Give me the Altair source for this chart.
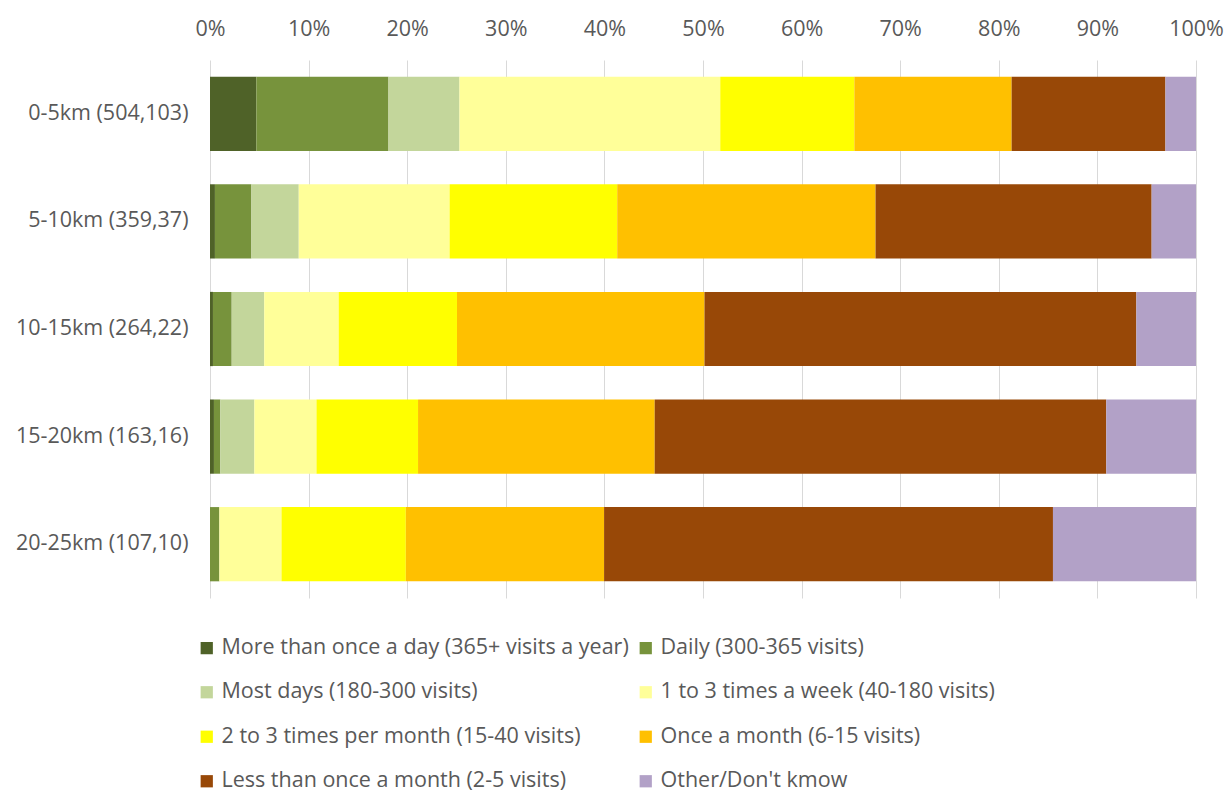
import altair as alt
import pandas as pd

rows = ["0-5km (504,103)", "5-10km (359,37)", "10-15km (264,22)", "15-20km (163,16)", "20-25km (107,10)"]
cats = [
    "More than once a day (365+ visits a year)",
    "Daily (300-365 visits)",
    "Most days (180-300 visits)",
    "1 to 3 times a week (40-180 visits)",
    "2 to 3 times per month (15-40 visits)",
    "Once a month (6-15 visits)",
    "Less than once a month (2-5 visits)",
    "Other/Don't kmow",
]
colors = ["#4F6228", "#77933C", "#C3D69B", "#FFFF99", "#FFFF00", "#FFC000", "#984807", "#B2A1C7"]

more_than_daily = [4.7, 0.5, 0.3, 0.4, 0.0]
daily = [13.4, 3.7, 1.9, 0.65, 0.95]
most_days = [7.2, 4.8, 3.3, 3.45, 0.0]
week_1_3 = [26.45, 15.3, 7.55, 6.3, 6.3]
month_2_3 = [13.6, 17.0, 12.0, 10.3, 12.6]
once_month = [15.95, 26.2, 25.1, 24.0, 20.1]
less_month = [15.6, 28.0, 43.8, 45.8, 45.5]
other = [3.1, 4.5, 6.05, 9.1, 14.5]

series = [more_than_daily, daily, most_days, week_1_3, month_2_3, once_month, less_month, other]

records = []
for ci, (c, vals) in enumerate(zip(cats, series)):
    for r, v in zip(rows, vals):
        records.append({"row": r, "cat": c, "idx": ci, "value": v})
df = pd.DataFrame(records)

FONT = "Open Sans"
chart = alt.Chart(df).mark_bar().encode(
    y=alt.Y("row:N", sort=rows, title=None,
            scale=alt.Scale(paddingInner=0.31, paddingOuter=0.155),
            axis=alt.Axis(ticks=False, domain=False, labelPadding=22, labelFontSize=21.5,
                          labelColor="#595959", labelFont=FONT, labelLimit=300)),
    x=alt.X("value:Q", stack="normalize", title=None,
            scale=alt.Scale(domain=[0, 1], nice=False),
            axis=alt.Axis(orient="top", format=".0%", values=[i / 10 for i in range(11)],
                          ticks=False, domain=False, grid=True, gridColor="#D9D9D9",
                          labelFlush=False, labelOverlap=False,
                          labelPadding=20, labelFontSize=21.5, labelColor="#595959", labelFont=FONT)),
    color=alt.Color("cat:N", sort=cats, scale=alt.Scale(domain=cats, range=colors),
                    legend=alt.Legend(title=None, orient="none", legendX=-14, legendY=577,
                                      columns=2, direction="horizontal",
                                      symbolType="square", symbolSize=150,
                                      symbolStrokeWidth=0, labelFontSize=21.5, labelColor="#595959",
                                      labelFont=FONT, rowPadding=21.5, columnPadding=6,
                                      labelLimit=600)),
    order=alt.Order("idx:Q"),
).properties(
    width=986, height=538,
    padding={"left": 210, "top": 60, "right": 30, "bottom": 198},
    autosize=alt.AutoSizeParams(type="none"),
    background="white",
).configure_view(stroke=None)

chart.save("out.html", embed_options={"renderer": "svg", "actions": False})
